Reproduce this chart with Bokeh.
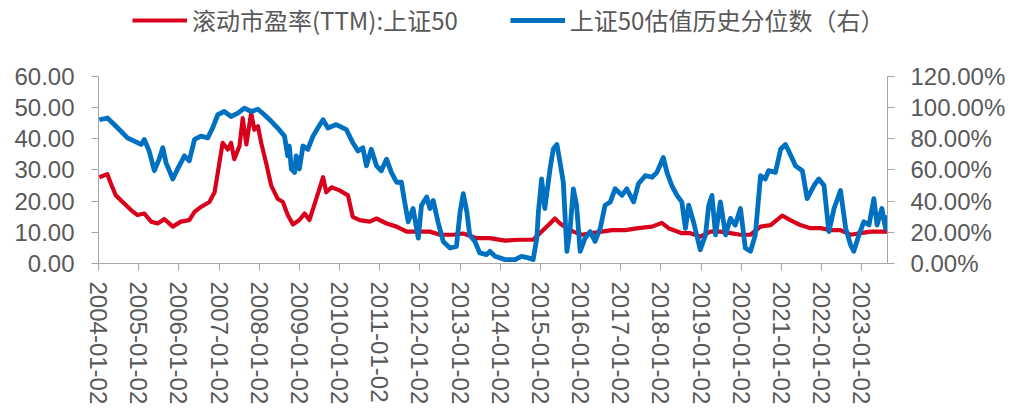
from bokeh.plotting import figure
from bokeh.models import (Range1d, LinearAxis, FixedTicker, PrintfTickFormatter,
                          Legend, LegendItem, ColumnDataSource)
from bokeh.embed import file_html
from bokeh.resources import INLINE

# ---------------- data ----------------
tick_years = list(range(2004, 2024))
tick_labels = [f"{y}-01-02" for y in tick_years]

pe_years = [2004.02, 2004.22, 2004.31, 2004.43, 2004.64, 2004.81, 2004.97, 2005.14,
            2005.31, 2005.47, 2005.64, 2005.85, 2006.05, 2006.26, 2006.39, 2006.55,
            2006.76, 2006.89, 2007.01, 2007.09, 2007.22, 2007.30, 2007.38, 2007.51,
            2007.59, 2007.68, 2007.80, 2007.88, 2007.97, 2008.05, 2008.17, 2008.30,
            2008.46, 2008.59, 2008.71, 2008.84, 2009.00, 2009.13, 2009.25, 2009.42,
            2009.59, 2009.67, 2009.80, 2010.00, 2010.21, 2010.33, 2010.50, 2010.75,
            2010.92, 2011.17, 2011.42, 2011.67, 2011.92, 2012.25, 2012.50, 2012.83,
            2013.08, 2013.41, 2013.74, 2014.12, 2014.45, 2014.82, 2014.95, 2015.07,
            2015.24, 2015.36, 2015.49, 2015.66, 2015.82, 2016.03, 2016.28, 2016.53,
            2016.78, 2017.11, 2017.44, 2017.78, 2018.02, 2018.19, 2018.52, 2018.73,
            2018.98, 2019.23, 2019.48, 2019.73, 2019.98, 2020.23, 2020.48, 2020.73,
            2021.02, 2021.22, 2021.47, 2021.72, 2021.97, 2022.22, 2022.47, 2022.72,
            2022.97, 2023.22, 2023.47, 2023.64]
pe_values = [27.6, 28.6, 25.5, 21.8, 19.2, 17.1, 15.5, 16.0,
             13.4, 12.8, 14.2, 11.8, 13.4, 13.9, 16.5, 18.1,
             19.7, 22.8, 32.3, 38.6, 36.5, 38.6, 33.4, 37.6,
             46.5, 38.1, 48.1, 42.8, 43.9, 38.6, 32.3, 24.9,
             20.7, 19.7, 15.5, 12.5, 13.9, 16.0, 13.9, 20.7,
             27.6, 22.8, 24.4, 23.4, 21.8, 14.9, 13.9, 13.4,
             14.4, 12.8, 11.8, 10.2, 10.2, 10.2, 9.2, 9.2,
             9.6, 8.1, 8.1, 7.3, 7.6, 7.6, 9.2, 10.7,
             12.8, 14.4, 12.8, 11.3, 10.2, 9.2, 9.7, 10.2,
             10.7, 10.7, 11.3, 11.8, 13.0, 11.3, 9.7, 9.7,
             8.6, 10.2, 10.2, 9.7, 9.2, 9.2, 11.8, 12.3,
             15.3, 13.9, 12.3, 11.3, 11.3, 10.7, 10.7, 9.2,
             9.7, 10.2, 10.2, 10.2]

pct_years = [2004.02, 2004.22, 2004.39, 2004.56, 2004.72, 2004.89, 2005.06, 2005.14,
             2005.26, 2005.39, 2005.51, 2005.60, 2005.68, 2005.85, 2005.97, 2006.14,
             2006.26, 2006.39, 2006.55, 2006.72, 2006.84, 2006.97, 2007.13, 2007.30,
             2007.47, 2007.63, 2007.80, 2007.97, 2008.13, 2008.30, 2008.46, 2008.63,
             2008.71, 2008.75, 2008.80, 2008.88, 2008.92, 2009.00, 2009.09, 2009.21,
             2009.34, 2009.46, 2009.59, 2009.71, 2009.92, 2010.17, 2010.33, 2010.46,
             2010.58, 2010.67, 2010.79, 2010.92, 2011.04, 2011.17, 2011.29, 2011.42,
             2011.54, 2011.62, 2011.71, 2011.83, 2011.96, 2012.04, 2012.17, 2012.25,
             2012.33, 2012.45, 2012.58, 2012.75, 2012.91, 2013.00, 2013.08, 2013.17,
             2013.24, 2013.37, 2013.49, 2013.66, 2013.74, 2013.87, 2014.12, 2014.37,
             2014.53, 2014.70, 2014.82, 2014.91, 2014.95, 2015.03, 2015.11, 2015.24,
             2015.32, 2015.41, 2015.49, 2015.57, 2015.66, 2015.74, 2015.82, 2015.90,
             2015.99, 2016.11, 2016.24, 2016.36, 2016.49, 2016.61, 2016.74, 2016.86,
             2017.03, 2017.15, 2017.32, 2017.44, 2017.61, 2017.78, 2017.90, 2018.06,
             2018.15, 2018.27, 2018.40, 2018.52, 2018.61, 2018.69, 2018.81, 2018.98,
             2019.11, 2019.19, 2019.27, 2019.36, 2019.48, 2019.61, 2019.73, 2019.85,
             2019.98, 2020.10, 2020.23, 2020.35, 2020.48, 2020.60, 2020.68, 2020.85,
             2020.98, 2021.10, 2021.18, 2021.35, 2021.52, 2021.64, 2021.81, 2021.93,
             2022.06, 2022.18, 2022.31, 2022.47, 2022.60, 2022.72, 2022.80, 2022.93,
             2023.05, 2023.18, 2023.30, 2023.38, 2023.50, 2023.59, 2023.63]
pct_values = [92.0, 93.1, 88.9, 84.6, 80.4, 78.3, 76.2, 79.4,
              72.0, 59.4, 66.8, 74.1, 64.6, 54.1, 60.5, 68.9,
              65.7, 79.4, 81.5, 80.4, 86.7, 95.2, 97.3, 94.1,
              96.2, 99.4, 97.3, 98.7, 95.2, 91.0, 86.7, 81.5,
              68.9, 75.2, 60.5, 58.3, 68.9, 60.5, 75.2, 73.1,
              81.5, 86.7, 92.0, 86.7, 88.9, 85.7, 77.3, 72.0,
              74.1, 62.5, 73.1, 62.5, 59.4, 66.8, 58.3, 52.0,
              52.0, 39.4, 26.7, 35.2, 16.2, 37.3, 42.5, 35.2,
              40.4, 26.7, 14.1, 9.9, 10.9, 33.0, 44.7, 33.0,
              18.3, 14.1, 6.8, 5.7, 7.8, 4.6, 2.5, 2.5,
              4.6, 3.6, 2.5, 16.2, 33.0, 54.1, 35.2, 60.5,
              73.1, 76.2, 64.6, 52.0, 7.8, 22.5, 47.8, 37.3,
              7.8, 16.2, 20.4, 14.1, 22.5, 37.3, 39.4, 47.8,
              43.6, 47.8, 39.4, 51.0, 56.2, 55.2, 58.3, 67.8,
              58.3, 49.9, 43.6, 39.4, 22.5, 37.3, 26.7, 8.8,
              18.3, 37.3, 43.6, 18.3, 39.4, 18.3, 28.9, 24.6,
              35.2, 9.9, 7.8, 18.3, 56.2, 54.1, 59.4, 58.3,
              73.1, 76.2, 72.0, 62.5, 59.4, 41.5, 49.9, 54.1,
              49.9, 20.4, 35.2, 46.7, 22.5, 12.0, 7.8, 18.3,
              26.7, 24.6, 41.5, 24.6, 35.2, 22.5, 30.9]

left_ticks = [0, 10, 20, 30, 40, 50, 60]
right_ticks = [0, 20, 40, 60, 80, 100, 120]

name_pe = "滚动市盈率(TTM):上证50"
name_pct = "上证50估值历史分位数（右）"

# ---------------- styles ----------------
RED = "#D9001B"
BLUE = "#0070C0"
AXIS = "#A6A6A6"
TEXT = "#595959"
FONT = "Liberation Sans"

# The frame reaches the top of the canvas so the legend can sit inside it;
# the axes are bounded to the data span (0-60 / 0-120%).
LEFT_TOP = 84.16
RIGHT_TOP = 168.32

p = figure(width=1012, height=419, output_backend="svg", toolbar_location=None,
           x_range=Range1d(2004.0, 2023.64), y_range=Range1d(0, LEFT_TOP),
           min_border_left=98, min_border_right=125, min_border_top=0,
           min_border_bottom=156)
p.outline_line_color = None
p.xgrid.visible = False
p.ygrid.visible = False
p.background_fill_color = "white"
p.border_fill_color = "white"

p.extra_y_ranges = {"pct": Range1d(0, RIGHT_TOP)}

src_pe = ColumnDataSource(dict(x=pe_years, y=pe_values))
src_pct = ColumnDataSource(dict(x=pct_years, y=pct_values))

r_pe = p.line("x", "y", source=src_pe, line_color=RED, line_width=4.2,
              line_join="round")
r_pct = p.line("x", "y", source=src_pct, line_color=BLUE, line_width=4.8,
               line_join="round", y_range_name="pct")

def style_axis(ax, size):
    ax.axis_line_color = AXIS
    ax.major_tick_line_color = AXIS
    ax.minor_tick_line_color = None
    ax.major_tick_in = 0
    ax.major_tick_out = 7
    ax.major_label_text_color = TEXT
    ax.major_label_text_font = FONT
    ax.major_label_text_font_size = size

xa = p.xaxis[0]
style_axis(xa, "24px")
xa.ticker = FixedTicker(ticks=tick_years)
xa.major_label_overrides = {y: lab for y, lab in zip(tick_years, tick_labels)}
xa.major_label_orientation = "vertical"
xa.major_label_standoff = 11

ya = p.yaxis[0]
style_axis(ya, "24px")
ya.ticker = FixedTicker(ticks=left_ticks)
ya.formatter = PrintfTickFormatter(format="%.2f")
ya.major_label_standoff = 17
ya.bounds = (0, 60)

yr = LinearAxis(y_range_name="pct")
style_axis(yr, "24px")
yr.ticker = FixedTicker(ticks=right_ticks)
yr.formatter = PrintfTickFormatter(format="%.2f%%")
yr.major_label_standoff = 16
yr.bounds = (0, 120)
p.add_layout(yr, "right")

legend = Legend(items=[LegendItem(label=name_pe, renderers=[r_pe]),
                       LegendItem(label=name_pct, renderers=[r_pct])],
                orientation="horizontal", location=(34, 226),
                glyph_width=55, glyph_height=20, label_standoff=5, spacing=52,
                padding=0, margin=0, border_line_color=None,
                background_fill_alpha=0,
                label_text_font="Noto Sans CJK SC", label_text_font_size="24px",
                label_text_color=TEXT)
p.add_layout(legend, "center")

open("out.html", "w").write(file_html(p, INLINE))
